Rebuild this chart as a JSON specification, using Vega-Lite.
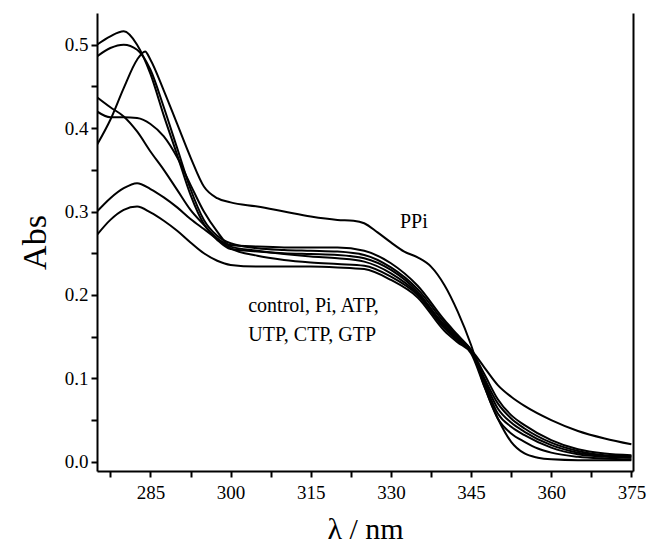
{
"$schema": "https://vega.github.io/schema/vega-lite/v6.json",
"width": 536, "height": 458,
"autosize": "none",
"padding": {"left": 97, "top": 13, "right": 18, "bottom": 77},
"background": "white",
"config": {
  "view": {"stroke": null},
  "font": "Liberation Serif",
  "axis": {"grid": false, "domainColor": "black", "domainWidth": 2, "tickColor": "black", "tickWidth": 2,
           "labelFont": "Liberation Serif", "labelFontSize": 19, "labelColor": "black",
           "titleFont": "Liberation Serif", "titleFontWeight": "normal", "titleColor": "black"}
},
"datasets": {
 "spectra": [
  {"s":"PPi","w":275,"a":0.38},{"s":"PPi","w":277.5,"a":0.41},{"s":"PPi","w":280,"a":0.448},{"s":"PPi","w":282.5,"a":0.482},{"s":"PPi","w":284,"a":0.492},{"s":"PPi","w":285,"a":0.482},{"s":"PPi","w":287.5,"a":0.445},{"s":"PPi","w":290,"a":0.405},{"s":"PPi","w":292.5,"a":0.365},{"s":"PPi","w":295,"a":0.33},{"s":"PPi","w":297.5,"a":0.316},{"s":"PPi","w":300,"a":0.311},{"s":"PPi","w":305,"a":0.306},{"s":"PPi","w":310,"a":0.3},{"s":"PPi","w":315,"a":0.294},{"s":"PPi","w":320,"a":0.29},{"s":"PPi","w":323,"a":0.289},{"s":"PPi","w":325,"a":0.286},{"s":"PPi","w":327.5,"a":0.275},{"s":"PPi","w":330,"a":0.263},{"s":"PPi","w":332.5,"a":0.252},{"s":"PPi","w":335,"a":0.245},{"s":"PPi","w":337.5,"a":0.234},{"s":"PPi","w":340,"a":0.212},{"s":"PPi","w":342.5,"a":0.18},{"s":"PPi","w":345,"a":0.14},{"s":"PPi","w":347.5,"a":0.09},{"s":"PPi","w":350,"a":0.052},{"s":"PPi","w":352.5,"a":0.024},{"s":"PPi","w":355,"a":0.01},{"s":"PPi","w":357.5,"a":0.005},{"s":"PPi","w":360,"a":0.003},{"s":"PPi","w":365,"a":0.002},{"s":"PPi","w":370,"a":0.002},{"s":"PPi","w":375,"a":0.002},

  {"s":"control","w":275,"a":0.5},{"s":"control","w":277.5,"a":0.51},{"s":"control","w":280,"a":0.516},{"s":"control","w":282.5,"a":0.5},{"s":"control","w":285,"a":0.465},{"s":"control","w":287.5,"a":0.415},{"s":"control","w":290,"a":0.368},{"s":"control","w":292.5,"a":0.32},{"s":"control","w":295,"a":0.285},{"s":"control","w":297.5,"a":0.268},{"s":"control","w":300,"a":0.26},{"s":"control","w":305,"a":0.258},{"s":"control","w":310,"a":0.257},{"s":"control","w":315,"a":0.257},{"s":"control","w":320,"a":0.257},{"s":"control","w":325,"a":0.253},{"s":"control","w":330,"a":0.238},{"s":"control","w":335,"a":0.211},{"s":"control","w":340,"a":0.17},{"s":"control","w":342.5,"a":0.152},{"s":"control","w":345,"a":0.134},{"s":"control","w":347.5,"a":0.105},{"s":"control","w":350,"a":0.075},{"s":"control","w":352.5,"a":0.056},{"s":"control","w":355,"a":0.044},{"s":"control","w":360,"a":0.026},{"s":"control","w":365,"a":0.015},{"s":"control","w":370,"a":0.01},{"s":"control","w":375,"a":0.008},

  {"s":"Pi","w":275,"a":0.486},{"s":"Pi","w":277.5,"a":0.496},{"s":"Pi","w":280,"a":0.5},{"s":"Pi","w":282.5,"a":0.494},{"s":"Pi","w":285,"a":0.47},{"s":"Pi","w":287.5,"a":0.425},{"s":"Pi","w":290,"a":0.376},{"s":"Pi","w":292.5,"a":0.327},{"s":"Pi","w":295,"a":0.29},{"s":"Pi","w":297.5,"a":0.271},{"s":"Pi","w":300,"a":0.262},{"s":"Pi","w":305,"a":0.256},{"s":"Pi","w":310,"a":0.254},{"s":"Pi","w":315,"a":0.253},{"s":"Pi","w":320,"a":0.252},{"s":"Pi","w":325,"a":0.248},{"s":"Pi","w":330,"a":0.233},{"s":"Pi","w":335,"a":0.207},{"s":"Pi","w":340,"a":0.167},{"s":"Pi","w":342.5,"a":0.15},{"s":"Pi","w":345,"a":0.134},{"s":"Pi","w":347.5,"a":0.1},{"s":"Pi","w":350,"a":0.07},{"s":"Pi","w":352.5,"a":0.052},{"s":"Pi","w":355,"a":0.04},{"s":"Pi","w":360,"a":0.023},{"s":"Pi","w":365,"a":0.013},{"s":"Pi","w":370,"a":0.008},{"s":"Pi","w":375,"a":0.007},

  {"s":"ATP","w":275,"a":0.437},{"s":"ATP","w":277.5,"a":0.425},{"s":"ATP","w":280,"a":0.414},{"s":"ATP","w":282.5,"a":0.396},{"s":"ATP","w":285,"a":0.372},{"s":"ATP","w":287.5,"a":0.35},{"s":"ATP","w":290,"a":0.326},{"s":"ATP","w":292.5,"a":0.302},{"s":"ATP","w":295,"a":0.284},{"s":"ATP","w":297.5,"a":0.266},{"s":"ATP","w":300,"a":0.255},{"s":"ATP","w":305,"a":0.252},{"s":"ATP","w":310,"a":0.25},{"s":"ATP","w":315,"a":0.249},{"s":"ATP","w":320,"a":0.248},{"s":"ATP","w":325,"a":0.244},{"s":"ATP","w":330,"a":0.23},{"s":"ATP","w":335,"a":0.204},{"s":"ATP","w":340,"a":0.162},{"s":"ATP","w":342.5,"a":0.146},{"s":"ATP","w":345,"a":0.134},{"s":"ATP","w":347.5,"a":0.113},{"s":"ATP","w":350,"a":0.092},{"s":"ATP","w":352.5,"a":0.078},{"s":"ATP","w":355,"a":0.067},{"s":"ATP","w":360,"a":0.05},{"s":"ATP","w":365,"a":0.037},{"s":"ATP","w":370,"a":0.028},{"s":"ATP","w":375,"a":0.021},

  {"s":"UTP","w":275,"a":0.42},{"s":"UTP","w":277.5,"a":0.413},{"s":"UTP","w":280,"a":0.413},{"s":"UTP","w":282.5,"a":0.412},{"s":"UTP","w":285,"a":0.405},{"s":"UTP","w":287.5,"a":0.39},{"s":"UTP","w":290,"a":0.365},{"s":"UTP","w":292.5,"a":0.332},{"s":"UTP","w":295,"a":0.3},{"s":"UTP","w":297.5,"a":0.276},{"s":"UTP","w":300,"a":0.258},{"s":"UTP","w":305,"a":0.253},{"s":"UTP","w":310,"a":0.249},{"s":"UTP","w":315,"a":0.246},{"s":"UTP","w":320,"a":0.244},{"s":"UTP","w":325,"a":0.24},{"s":"UTP","w":330,"a":0.226},{"s":"UTP","w":335,"a":0.202},{"s":"UTP","w":340,"a":0.164},{"s":"UTP","w":342.5,"a":0.148},{"s":"UTP","w":345,"a":0.133},{"s":"UTP","w":347.5,"a":0.097},{"s":"UTP","w":350,"a":0.064},{"s":"UTP","w":352.5,"a":0.047},{"s":"UTP","w":355,"a":0.036},{"s":"UTP","w":360,"a":0.02},{"s":"UTP","w":365,"a":0.011},{"s":"UTP","w":370,"a":0.007},{"s":"UTP","w":375,"a":0.006},

  {"s":"CTP","w":275,"a":0.3},{"s":"CTP","w":277.5,"a":0.316},{"s":"CTP","w":280,"a":0.328},{"s":"CTP","w":282.5,"a":0.334},{"s":"CTP","w":285,"a":0.327},{"s":"CTP","w":287.5,"a":0.317},{"s":"CTP","w":290,"a":0.305},{"s":"CTP","w":292.5,"a":0.291},{"s":"CTP","w":295,"a":0.279},{"s":"CTP","w":297.5,"a":0.267},{"s":"CTP","w":300,"a":0.256},{"s":"CTP","w":305,"a":0.247},{"s":"CTP","w":310,"a":0.242},{"s":"CTP","w":315,"a":0.239},{"s":"CTP","w":320,"a":0.237},{"s":"CTP","w":325,"a":0.235},{"s":"CTP","w":330,"a":0.222},{"s":"CTP","w":335,"a":0.2},{"s":"CTP","w":340,"a":0.16},{"s":"CTP","w":342.5,"a":0.145},{"s":"CTP","w":345,"a":0.133},{"s":"CTP","w":347.5,"a":0.094},{"s":"CTP","w":350,"a":0.058},{"s":"CTP","w":352.5,"a":0.042},{"s":"CTP","w":355,"a":0.032},{"s":"CTP","w":360,"a":0.017},{"s":"CTP","w":365,"a":0.009},{"s":"CTP","w":370,"a":0.006},{"s":"CTP","w":375,"a":0.005},

  {"s":"GTP","w":275,"a":0.272},{"s":"GTP","w":277.5,"a":0.29},{"s":"GTP","w":280,"a":0.302},{"s":"GTP","w":282.5,"a":0.306},{"s":"GTP","w":285,"a":0.299},{"s":"GTP","w":287.5,"a":0.289},{"s":"GTP","w":290,"a":0.277},{"s":"GTP","w":292.5,"a":0.263},{"s":"GTP","w":295,"a":0.25},{"s":"GTP","w":297.5,"a":0.241},{"s":"GTP","w":300,"a":0.236},{"s":"GTP","w":305,"a":0.234},{"s":"GTP","w":310,"a":0.234},{"s":"GTP","w":315,"a":0.234},{"s":"GTP","w":320,"a":0.233},{"s":"GTP","w":325,"a":0.231},{"s":"GTP","w":330,"a":0.218},{"s":"GTP","w":335,"a":0.197},{"s":"GTP","w":340,"a":0.157},{"s":"GTP","w":342.5,"a":0.143},{"s":"GTP","w":345,"a":0.13},{"s":"GTP","w":347.5,"a":0.09},{"s":"GTP","w":350,"a":0.052},{"s":"GTP","w":352.5,"a":0.034},{"s":"GTP","w":355,"a":0.024},{"s":"GTP","w":357.5,"a":0.016},{"s":"GTP","w":360,"a":0.011},{"s":"GTP","w":365,"a":0.006},{"s":"GTP","w":370,"a":0.004},{"s":"GTP","w":375,"a":0.003}
 ],
 "labelsCenter": [
  {"t":"PPi","w":334.3,"a":0.288}
 ],
 "labelsLeft": [
  {"t":"control, Pi, ATP,","w":303.3,"a":0.187},
  {"t":"UTP, CTP, GTP","w":303.3,"a":0.152}
 ]
},
"layer": [
 {
  "data": {"name": "spectra"},
  "mark": {"type": "line", "interpolate": "monotone", "color": "black", "strokeWidth": 2, "clip": true},
  "encoding": {
   "x": {"field": "w", "type": "quantitative", "scale": {"domain": [275, 375.3], "nice": false, "zero": false},
         "axis": {"orient": "bottom", "values": [277.5,285,292.5,300,307.5,315,322.5,330,337.5,345,352.5,360,367.5,375],
                  "labelExpr": "datum.value % 15 === 0 ? datum.label : ''",
                  "ticks": true, "tickSize": 6, "labelPadding": 6, "title": "λ / nm", "titleFontSize": 30, "titlePadding": 12, "labelFlush": false}},
   "y": {"field": "a", "type": "quantitative", "scale": {"domain": [-0.011, 0.538], "nice": false, "zero": false},
         "axis": {"orient": "left", "values": [0,0.05,0.1,0.15,0.2,0.25,0.3,0.35,0.4,0.45,0.5],
                  "labelExpr": "round(datum.value * 100) % 10 === 0 ? format(datum.value, '.1f') : ''",
                  "ticks": true, "tickSize": 6, "labelPadding": 3, "title": "Abs", "titleFontSize": 34, "titlePadding": 12, "labelFlush": false}},
   "detail": {"field": "s", "type": "nominal"}
  }
 },
 {
  "data": {"name": "spectra"},
  "mark": {"type": "line", "opacity": 0},
  "encoding": {
   "x": {"field": "w", "type": "quantitative", "axis": null},
   "y": {"field": "a", "type": "quantitative", "axis": {"orient": "right", "ticks": false, "labels": false, "title": null, "domain": true}},
   "detail": {"field": "s", "type": "nominal"}
  }
 },
 {
  "data": {"name": "labelsCenter"},
  "mark": {"type": "text", "font": "Liberation Serif", "fontSize": 20, "color": "black", "baseline": "middle", "align": "center"},
  "encoding": {
   "x": {"field": "w", "type": "quantitative", "axis": null},
   "y": {"field": "a", "type": "quantitative", "axis": null},
   "text": {"field": "t"}
  }
 },
 {
  "data": {"name": "labelsLeft"},
  "mark": {"type": "text", "font": "Liberation Serif", "fontSize": 20, "color": "black", "baseline": "middle", "align": "left"},
  "encoding": {
   "x": {"field": "w", "type": "quantitative", "axis": null},
   "y": {"field": "a", "type": "quantitative", "axis": null},
   "text": {"field": "t"}
  }
 }
],
"resolve": {"axis": {"x": "independent", "y": "independent"}}
}
